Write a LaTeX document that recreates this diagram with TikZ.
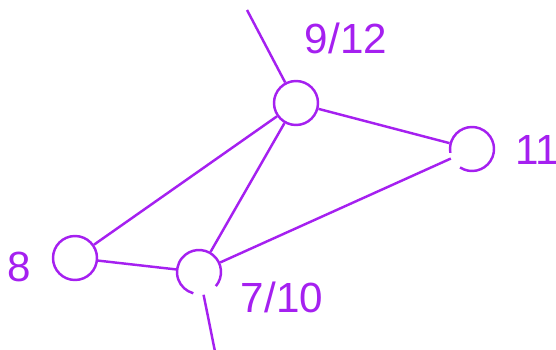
\documentclass[tikz,border=0pt]{standalone}
\usepackage{fontspec}
\setmainfont{Liberation Sans}
\usepackage{tikz}
\usetikzlibrary{positioning}
\definecolor{graphpurple}{RGB}{165, 32, 240}

\begin{document}
\begin{tikzpicture}[
    vertex/.style={circle, draw=graphpurple, line width=1.4pt, minimum size=0.88cm, inner sep=0pt},
    openvertex/.style={circle, minimum size=0.88cm, inner sep=0pt, outer sep=0.7pt},
    edge/.style={draw=graphpurple, line width=1.4pt},
    lbl/.style={text=graphpurple, inner sep=0pt, font=\fontsize{24}{28}\selectfont}
]
\useasboundingbox (0, 0) rectangle (11.12, 6.98);

\node[vertex] (n912) at (5.92, 4.92) {};
\node[openvertex] (n11) at (9.44, 4.00) {};
\node[vertex] (n8) at (1.50, 1.82) {};
\node[openvertex] (n710) at (3.98, 1.54) {};

% circles with a small gap
\draw[edge] ([shift={(237:0.44)}]n11.center) arc[start angle=237, end angle=550, radius=0.44];
\draw[edge] ([shift={(320:0.44)}]n710.center) arc[start angle=320, end angle=615, radius=0.44];

\coordinate (top) at (4.94, 6.78);
\coordinate (bottom) at (4.31, -0.10);

\draw[edge] (top) -- (n912);
\draw[edge] (n912) -- (n11);
\draw[edge] (n912) -- (n8);
\draw[edge] (n912) -- (n710);
\draw[edge] (n8) -- (n710);
\draw[edge] (n710) -- (n11);
\draw[edge] (n710) -- (bottom);

\node[lbl] (l912) at (6.92, 6.22) {9/12};
\node[lbl, anchor=west] (l11) at (10.30, 3.98) {11};
\node[lbl] (l8) at (0.38, 1.64) {8};
\node[lbl] (l710) at (5.64, 1.04) {7/10};
\end{tikzpicture}
\end{document}
